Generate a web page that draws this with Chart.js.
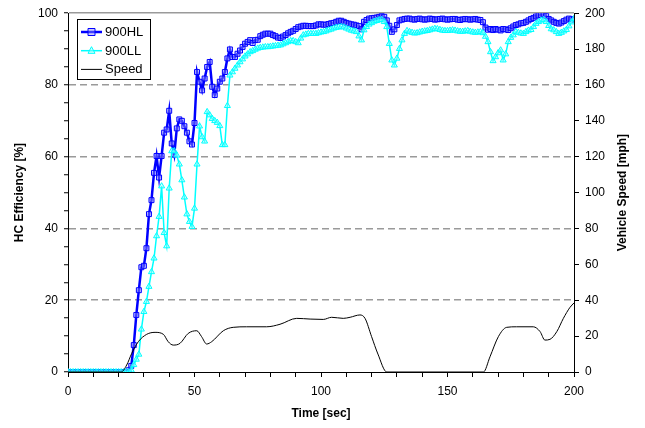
<!DOCTYPE html>
<html><head><meta charset="utf-8">
<script src="https://cdn.jsdelivr.net/npm/chart.js@4.4.1/dist/chart.umd.min.js"></script>
<style>html,body{margin:0;padding:0;background:#fff;}#wrap{width:645px;height:428px;position:relative;}</style>
</head><body><div id="wrap"><canvas id="c" width="645" height="428"></canvas></div>
<script>
// HC efficiency [%], sampled once per second from t = 0 s to t = 200 s
const eff900HL = [
0,0,0,0,0,0,0,0,0,0, 0,0,0,0,0,0,0,0,0,0, 0,0,0,0,0.5,1.7,7.5,15.9,22.8,29.2,
29.6,34.5,44,47.9,55.5,60.2,54.2,60.2,66.7,67.6, 72.8,63.7,60.6,67.9,70.4,70,68.5,66.7,64.3,63.4,
69.4,83.6,80.9,78.5,81.8,85,86.4,79.5,77.2,79, 80.9,81.8,83.6,87.4,89.9,87.8,87.8,88.7,89.6,90.6,
91.5,92,92.5,91.7,92.5,92.6,93.6,94,94.3,94.3, 94.3,93.9,93.6,93.2,93.1,93.5,93.9,94.4,94.8,95.1,
95.6,96.1,96.3,96.5,96.5,96.4,96.4,96.4,96.6,96.9, 96.9,96.8,96.8,97,97.2,97.3,97.6,97.9,97.9,97.6,
97.3,97.1,96.9,96.8,96.6,96.4,95.5,97.6,98.1,98.5, 98.6,98.7,98.8,99,99.2,99,98,96.5,94.8,95.5,
96.7,98,98.2,98.4,98.5,98.5,98.3,98.2,98.4,98.5, 98.3,98.2,98.3,98.5,98.4,98.2,98.3,98.4,98.5,98.3,
98.2,98.3,98.4,98.4,98.2,98.1,98.3,98.4,98.3,98.2, 98.3,98.4,98.2,98.1,97.5,96,95.4,95.6,95.3,95.6,
95.4,95.2,95.6,95.5,95.3,95.8,96.3,96.7,96.9,97.2, 97.3,97.6,98,98.4,98.7,99.1,99.4,99.5,99.7,99.2,
98.4,98,97.6,97.3,97.1,97.4,97.8,98.2,98.5,98.3, 98.2
];
const eff900LL = [
0,0,0,0,0,0,0,0,0,0, 0,0,0,0,0,0,0,0,0,0, 0,0,0,0,0,0.5,2,3.5,4.9,11.9,
16.8,19.6,23.8,27.9,31.7,37.9,43.3,51.8,38.8,35.1, 51.2,61.6,61.6,60.4,57.9,53.5,48.7,44,41.9,40.5,
45.6,57.9,68.5,65.5,64.3,72.5,71.6,70.6,70,69.5, 68.6,63.3,63.3,74.2,82.7,83.6,84.6,85.5,86.4,87.2,
88,88.6,89.2,89.5,89.9,90.2,90.4,90.5,90.6,90.6, 90.7,90.8,90.9,91,91.1,91.4,91.7,92,92.3,92.3,
92,91.7,93,93.9,94.1,94.3,94.3,94.3,94.3,94.5, 94.7,94.8,95,95.3,95.5,95.8,96,96.1,96.2,96.1,
95.8,95.5,95.2,95,94.8,93.6,92.5,95.3,96.2,96.9, 97.3,97.7,97.9,98.1,98.2,97.6,96.2,91.5,86.9,85.5,
87.4,90.1,92.5,94.3,95.1,94.8,94.6,94.4,94.5,94.7, 94.9,95,95.1,95.3,95.5,95.7,95.6,95.4,95.2,95.1,
95.1,95.2,95.3,95.2,95,94.9,94.9,95,95.1,94.9, 94.7,94.6,94.7,94.8,94.5,93.5,92,89.2,86.7,87.8,
88.9,89.7,86.9,88.6,92,93.2,93.9,94.8,94.6,94.4, 94.3,94.8,95.2,95.4,96.2,97.1,97.6,98,98.2,97.6,
96.5,95.6,95.3,94.8,94.3,94.6,95,95.4,96.4,97.5, 98.5
];
// Vehicle speed [mph] read at these times [sec]
const speedTime = [0,21,23.2,25.2,27.8,31.1,34.4,37.7,39.6,41.6,44.3,47.5,50.9,52.8,54.8,56.8,61.4,65.3,70.6,78.5,83.8,90.4,95.7,100.9,104.2,108.8,111.5,115.4,117.4,120,122.5,126,164.2,166.8,170.1,173.4,177.3,183.9,186.6,188.5,190.5,193.2,195.8,198.4,200];
const speedMph  = [0,0,3.9,10.4,16.9,21,22.1,21,16.9,15,16,21.5,23,19.7,15.6,16.9,23,24.9,25.2,25.2,26.6,29.9,29.5,29.3,30.5,29.9,30.5,31.8,29.9,19.7,10,0,0,8.5,19.7,24.9,25.2,25.2,22.5,17.8,18.2,22.5,29.9,36,38.5];
const seriesNames = ['900HL','900LL','Speed'];
const xTitle = 'Time [sec]', yTitle = 'HC Efficiency [%]', y2Title = 'Vehicle Speed [mph]';

const FONT = 'Liberation Sans, Arial, sans-serif';
const hlPts = eff900HL.map((v,i)=>({x:i,y:v}));
const llPts = eff900LL.map((v,i)=>({x:i,y:v}));
const spPts = speedTime.map((t,i)=>({x:t,y:speedMph[i]}));

const styles = {
  hl:{color:'#0000FF', fill:'rgba(140,140,255,0.45)', style:'rect', lw:2.5},
  ll:{color:'#00FFFF', fill:'rgba(150,255,255,0.45)', style:'triangle', lw:1.5},
  sp:{color:'#000000', lw:1}
};

function drawMarker(ctx, type, x, y, r, stroke, fill){
  ctx.save(); ctx.lineWidth=1; ctx.strokeStyle=stroke; ctx.fillStyle=fill; ctx.setLineDash([]);
  ctx.beginPath();
  if(type==='rect'){ ctx.rect(x-r,y-r,2*r,2*r); }
  else { ctx.moveTo(x,y-r*1.15); ctx.lineTo(x+r,y+r*0.75); ctx.lineTo(x-r,y+r*0.75); ctx.closePath(); }
  ctx.fill(); ctx.stroke(); ctx.restore();
}

const overlay = {
  id:'overlay',
  afterDraw(chart){
    const ctx = chart.ctx; const ca = chart.chartArea;
    ctx.save();
    ctx.translate(623,(ca.top+ca.bottom)/2); ctx.rotate(-Math.PI/2);
    ctx.font = 'bold 12px '+FONT; ctx.fillStyle='#000'; ctx.textAlign='center'; ctx.textBaseline='middle';
    ctx.fillText(y2Title,0,0);
    ctx.restore();
    ctx.save();
    const bx=77, by=19, bw=73, bh=60;
    ctx.fillStyle='#fff'; ctx.fillRect(bx,by,bw,bh);
    ctx.strokeStyle='#000'; ctx.lineWidth=1; ctx.strokeRect(bx+0.5,by+0.5,bw,bh);
    const rows=[styles.hl,styles.ll,styles.sp];
    ctx.font='13px '+FONT; ctx.textBaseline='middle'; ctx.textAlign='left';
    rows.forEach((s,i)=>{
      const y = by+13+i*18.7;
      ctx.strokeStyle=s.color; ctx.lineWidth=s.lw; ctx.beginPath(); ctx.moveTo(81,y); ctx.lineTo(102,y); ctx.stroke();
      if(s.style) drawMarker(ctx,s.style,91.5,y,3.5,s.color,s.fill);
      ctx.fillStyle='#000'; ctx.fillText(seriesNames[i],105,y+0.5);
    });
    ctx.restore();
  }
};

new Chart(document.getElementById('c'),{
  type:'line',
  data:{datasets:[
    {label:seriesNames[0], data:hlPts, yAxisID:'y', order:2, borderColor:styles.hl.color, borderWidth:styles.hl.lw,
     pointStyle:'rect', pointRadius:3.5, pointBorderWidth:1, pointBorderColor:styles.hl.color, pointBackgroundColor:styles.hl.fill, tension:0},
    {label:seriesNames[1], data:llPts, yAxisID:'y', order:1, borderColor:styles.ll.color, borderWidth:styles.ll.lw,
     pointStyle:'triangle', pointRadius:3.5, pointBorderWidth:1, pointBorderColor:styles.ll.color, pointBackgroundColor:styles.ll.fill, tension:0},
    {label:seriesNames[2], data:spPts, yAxisID:'y2', order:0, borderColor:'#000', borderWidth:1, pointRadius:0, cubicInterpolationMode:'monotone'}
  ]},
  options:{
    responsive:false, animation:false, devicePixelRatio:1,
    layout:{padding:{left:0,right:0,top:13,bottom:0}},
    plugins:{legend:{display:false}, tooltip:{enabled:false}},
    scales:{
      x:{type:'linear', position:'bottom', min:0, max:200,
        afterFit:s=>{s.height=56;},
        ticks:{stepSize:10, autoSkip:false, maxRotation:0, padding:7, color:'#000', font:{family:FONT,size:12},
          callback:v=> v%50===0 ? String(v) : ''},
        grid:{drawOnChartArea:false, tickLength:5, tickColor:'#000', tickWidth:1, color:'#000'},
        border:{color:'#000', width:1},
        title:{display:true, text:xTitle, color:'#000', font:{family:FONT,size:12,weight:'bold'}, padding:{top:0,bottom:7}}
      },
      y:{type:'linear', position:'left', min:0, max:100,
        afterFit:s=>{s.width=68;},
        ticks:{stepSize:5, autoSkip:false, padding:6, color:'#000', font:{family:FONT,size:12},
          callback:v=> v%20===0 ? String(v) : ''},
        grid:{color:c=> (c.tick && c.tick.value%20===0 && c.tick.value>0) ? '#9a9a9a' : 'rgba(0,0,0,0)',
          lineWidth:1.5, tickLength:4, tickColor:'#000', tickWidth:1},
        border:{color:'#000', width:1, dash:c=> (c.tick && c.tick.value===100) ? [] : [7,4]},
        title:{display:true, text:yTitle, color:'#000', font:{family:FONT,size:12,weight:'bold'}, padding:{top:12,bottom:0}}
      },
      y2:{type:'linear', position:'right', min:0, max:200,
        afterFit:s=>{s.width=71;},
        ticks:{stepSize:20, autoSkip:false, padding:6, color:'#000', font:{family:FONT,size:12}},
        grid:{drawOnChartArea:false, tickLength:5, tickColor:'#000', tickWidth:1},
        border:{color:'#000', width:1}
      }
    }
  },
  plugins:[overlay]
});
</script></body></html>
